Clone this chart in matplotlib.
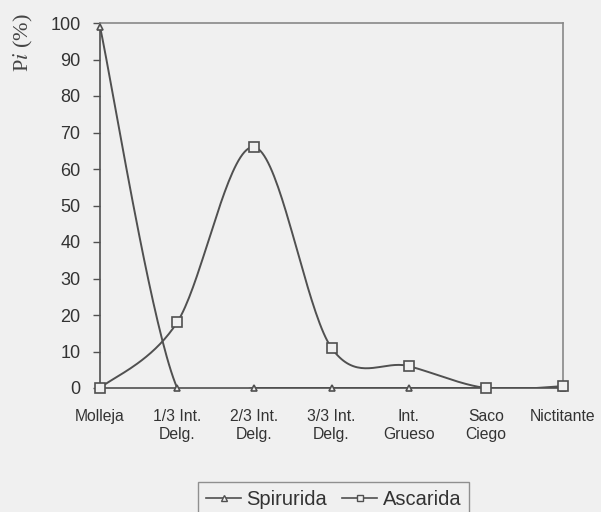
import numpy as np
import matplotlib
matplotlib.use("Agg")
import matplotlib.pyplot as plt

# categories and series (prevalence %)
categorias = ["Molleja", "1/3 Int.\nDelg.", "2/3 Int.\nDelg.", "3/3 Int.\nDelg.",
              "Int.\nGrueso", "Saco\nCiego", "Nictitante"]
spirurida = [99, 0, 0, 0, 0, 0, 0]
ascarida = [0, 18, 66, 11, 6, 0, 0.5]
y_ticks = list(range(0, 101, 10))

BG = "#f0f0f0"
LINE = "#505050"

plt.rcParams["mathtext.fontset"] = "stix"


def smooth(xs, ys, n=40):
    """Excel-like smoothed line (cubic Bezier, Catmull-Rom tangents)."""
    p = np.column_stack([xs, ys]).astype(float)
    out = []
    for i in range(len(p) - 1):
        p0 = p[i - 1] if i > 0 else p[i]
        p1, p2 = p[i], p[i + 1]
        p3 = p[i + 2] if i + 2 < len(p) else p[i + 1]
        c1 = p1 + (p2 - p0) / 6.0
        c2 = p2 - (p3 - p1) / 6.0
        t = np.linspace(0, 1, n)[:, None]
        seg = ((1 - t) ** 3) * p1 + 3 * ((1 - t) ** 2) * t * c1 \
            + 3 * (1 - t) * t ** 2 * c2 + t ** 3 * p2
        out.append(seg if i == 0 else seg[1:])
    out = np.vstack(out)
    return out[:, 0], out[:, 1]


fig = plt.figure(figsize=(6.01, 5.12), dpi=100, facecolor=BG)
ax = fig.add_axes([100 / 601, 1 - 388 / 512, 463 / 601, 365 / 512])
ax.set_facecolor(BG)

x = np.arange(len(categorias))

for vals, mk, ms, lab in [(spirurida, "^", 5, "Spirurida"),
                          (ascarida, "s", 6.5, "Ascarida")]:
    sx, sy = smooth(x, vals)
    ax.plot(sx, sy, color=LINE, lw=1.4, zorder=2)
    ax.plot(x, vals, ls="none", marker=mk, ms=ms, mfc=BG, mec=LINE,
            mew=1.2, zorder=3, clip_on=False)

ax.set_xlim(0, len(categorias) - 1)
ax.set_ylim(0, 100)
ax.set_yticks(y_ticks)
ax.set_xticks(x)
ax.set_xticklabels(categorias, fontsize=11.3, family="Liberation Sans",
                   color="#333333", linespacing=1.25)
ax.tick_params(axis="x", length=0, pad=15)
ax.tick_params(axis="y", length=5, width=1, color=LINE, pad=9,
               labelsize=13, labelcolor="#333333")
for t in ax.get_yticklabels():
    t.set_family("Liberation Sans")

for s in ["left", "bottom"]:
    ax.spines[s].set_color(LINE)
    ax.spines[s].set_linewidth(1.2)
for s in ["top", "right"]:
    ax.spines[s].set_color("#888888")
    ax.spines[s].set_linewidth(1.2)

fig.text(23 / 601, 1 - 43 / 512, r"P$\mathit{i}$ (%)", rotation=90,
         ha="center", va="center", fontsize=16, family="Liberation Serif",
         color="#444444")

h1, = ax.plot([], [], color=LINE, lw=1.2, marker="^", ms=4, mfc=BG, mec=LINE)
h2, = ax.plot([], [], color=LINE, lw=1.2, marker="s", ms=4.5, mfc=BG, mec=LINE)
leg = fig.legend([h1, h2], ["Spirurida", "Ascarida"], ncol=2,
                 loc="upper left", bbox_to_anchor=(198 / 601, 1 - 482 / 512),
                 frameon=True, fancybox=False, edgecolor="#777777",
                 facecolor=BG, handlelength=1.75, handletextpad=0.25,
                 columnspacing=0.75, borderpad=0.4, borderaxespad=0,
                 prop={"family": "Liberation Sans", "size": 14.5})
leg.get_frame().set_linewidth(1.0)
for t in leg.get_texts():
    t.set_color("#333333")

fig.savefig("out.png", dpi=100, facecolor=BG)
